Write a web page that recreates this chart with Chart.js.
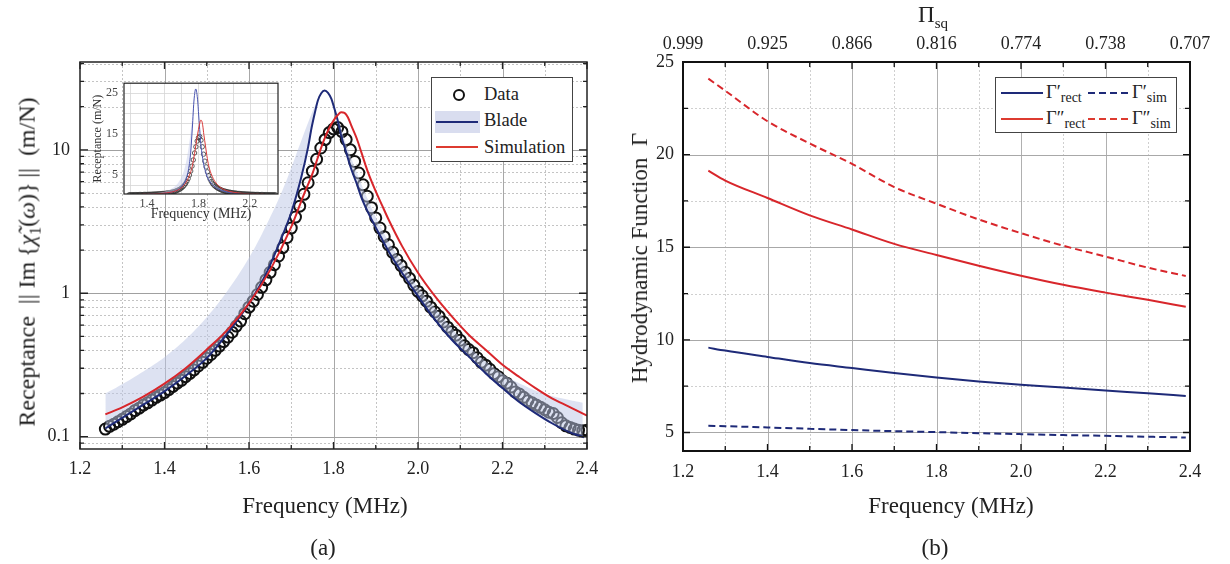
<!DOCTYPE html>
<html>
<head>
<meta charset="utf-8">
<script src="https://cdn.jsdelivr.net/npm/chart.js@4.4.1/dist/chart.umd.min.js"></script>
<style>
  body { margin: 0; width: 1230px; height: 564px; background: #fff; position: relative; overflow: hidden;
         font-family: 'Liberation Serif', 'Times New Roman', serif; color: #222; }
  canvas { position: absolute; }
  .lbl { position: absolute; white-space: nowrap; transform: translate(-50%, -50%); font-size: 23px; }
  .rot { transform: translate(-50%, -50%) rotate(-90deg); }
  .legend { position: absolute; background: #fff; border: 1px solid #444; }
  .legend div { position: absolute; }
  .ltxt { font-size: 18.5px; transform: translateY(-50%); white-space: nowrap; }
  .ltxt sub { font-size: 14px; vertical-align: -4px; }
</style>
</head>
<body>
<canvas id="chartA" width="615" height="500" style="left:0;top:0"></canvas>
<canvas id="chartB" width="615" height="500" style="left:615px;top:0"></canvas>
<canvas id="inset" width="202" height="156" style="left:88px;top:70px"></canvas>

<div class="lbl rot" style="left:29px;top:262px;font-size:24px">Receptance&nbsp;&nbsp;||&nbsp;Im&thinsp;{<i>χ̃</i><sub style="font-size:16px">1</sub>(<i>ω</i>)}&thinsp;||&nbsp;&nbsp;(m/N)</div>
<div class="lbl" style="left:325px;top:506px">Frequency (MHz)</div>
<div class="lbl" style="left:323px;top:548px">(a)</div>

<div class="lbl rot" style="left:640px;top:258px">Hydrodynamic Function&nbsp;&nbsp;Γ</div>
<div class="lbl" style="left:951px;top:506px">Frequency (MHz)</div>
<div class="lbl" style="left:935px;top:548px">(b)</div>
<div class="lbl" style="left:933px;top:17px">Π<sub style="font-size:15px">sq</sub></div>

<div class="legend" style="left:431px;top:77px;width:140px;height:83px">
  <div style="left:21px;top:11px;width:8px;height:8px;border:2px solid #111;border-radius:50%"></div>
  <div class="ltxt" style="left:52px;top:16px">Data</div>
  <div style="left:3px;top:33px;width:45px;height:22px;background:#d9ddef"></div>
  <div style="left:4px;top:43px;width:42px;height:2px;background:#1e2a78"></div>
  <div class="ltxt" style="left:52px;top:42px">Blade</div>
  <div style="left:4px;top:68px;width:42px;height:2px;background:#dd3b30"></div>
  <div class="ltxt" style="left:52px;top:69px">Simulation</div>
</div>

<div class="legend" style="left:995px;top:77px;width:180px;height:54px">
  <div style="left:5px;top:14px;width:42px;height:2px;background:#1e2a78"></div>
  <div class="ltxt" style="left:50px;top:16px">Γ′<sub>rect</sub></div>
  <div style="left:92px;top:14px;width:41px;height:2px;background:repeating-linear-gradient(90deg,#1e2a78 0 7px,transparent 7px 11px)"></div>
  <div class="ltxt" style="left:136px;top:16px">Γ′<sub>sim</sub></div>
  <div style="left:5px;top:40px;width:42px;height:2px;background:#dd3b30"></div>
  <div class="ltxt" style="left:50px;top:42px">Γ″<sub>rect</sub></div>
  <div style="left:92px;top:40px;width:41px;height:2px;background:repeating-linear-gradient(90deg,#dd3b30 0 7px,transparent 7px 11px)"></div>
  <div class="ltxt" style="left:136px;top:42px">Γ″<sub>sim</sub></div>
</div>

<script>
// ---- panel (a): measured receptance (circles)
const freqA = [
  1.26,1.27,1.28,1.29,1.30,1.31,1.32,1.33,1.34,1.35,
  1.36,1.37,1.38,1.39,1.40,1.41,1.42,1.43,1.44,1.45,
  1.46,1.47,1.48,1.49,1.50,1.51,1.52,1.53,1.54,1.55,
  1.56,1.57,1.58,1.59,1.60,1.61,1.62,1.63,1.64,1.65,
  1.66,1.67,1.68,1.69,1.70,1.71,1.72,1.73,1.74,1.75,
  1.76,1.77,1.78,1.79,1.80,1.81,1.82,1.83,1.84,1.85,
  1.86,1.87,1.88,1.89,1.90,1.91,1.92,1.93,1.94,1.95,
  1.96,1.97,1.98,1.99,2.00,2.01,2.02,2.03,2.04,2.05,
  2.06,2.07,2.08,2.09,2.10,2.11,2.12,2.13,2.14,2.15,
  2.16,2.17,2.18,2.19,2.20,2.21,2.22,2.23,2.24,2.25,
  2.26,2.27,2.28,2.29,2.30,2.31,2.32,2.33,2.34,2.35,
  2.36,2.37,2.38,2.39,2.40
];
const receptance = [
  0.113,0.118,0.122,0.127,0.132,0.138,0.144,0.152,0.158,0.166,
  0.172,0.180,0.188,0.195,0.203,0.213,0.224,0.236,0.247,0.262,
  0.276,0.292,0.311,0.330,0.352,0.374,0.400,0.428,0.460,0.495,
  0.535,0.590,0.640,0.720,0.800,0.880,0.980,1.10,1.24,1.40,
  1.58,1.82,2.08,2.45,2.85,3.40,4.05,4.90,5.90,7.10,
  8.60,10.3,11.8,13.2,14.0,14.3,13.4,11.8,10.0,8.3,
  6.9,5.7,4.75,3.95,3.35,2.85,2.48,2.18,1.93,1.72,
  1.56,1.40,1.27,1.14,1.03,0.96,0.88,0.80,0.74,0.69,
  0.63,0.58,0.54,0.51,0.47,0.43,0.405,0.385,0.355,0.33,
  0.315,0.295,0.275,0.262,0.245,0.236,0.222,0.205,0.198,0.188,
  0.178,0.172,0.166,0.160,0.154,0.148,0.145,0.136,0.125,0.119,
  0.116,0.113,0.111,0.110,0.111
];

// blade model line
const bladeFreq = [1.26,1.30,1.35,1.40,1.45,1.50,1.55,1.60,1.64,1.676,1.70,1.724,1.74,1.748,1.756,1.763,1.771,1.779,1.787,1.795,
  1.80,1.81,1.818,1.83,1.842,1.855,1.866,1.88,1.898,1.915,1.93,1.962,2.00,2.04,2.08,2.12,2.16,2.20,2.238,2.278,2.317,2.357,2.393];
const bladeLine = [0.114,0.135,0.167,0.207,0.266,0.353,0.53,0.85,1.36,2.4,3.66,6.5,10.5,14.2,18.2,22.1,24.8,25.9,25.0,22.7,
  20.4,16.0,12.6,9.6,7.35,5.8,4.66,3.75,2.95,2.38,1.97,1.39,0.955,0.654,0.474,0.363,0.277,0.218,0.176,0.146,0.124,0.108,0.099];

// blade uncertainty band
const bandFreq = [1.26,1.30,1.35,1.40,1.45,1.50,1.55,1.60,1.64,1.68,1.71,1.74,1.76,1.775,1.79,1.81,1.83,1.85,1.88,1.92,
  1.96,2.00,2.05,2.10,2.15,2.20,2.25,2.30,2.35,2.39];
const bandLow = [0.114,0.135,0.167,0.207,0.266,0.353,0.53,0.85,1.36,2.57,4.6,10.5,20.2,25.6,24.3,16.0,9.6,6.3,3.75,2.2,
  1.42,0.955,0.61,0.415,0.296,0.218,0.166,0.133,0.110,0.100];
const bandHigh = [0.200,0.232,0.285,0.358,0.477,0.68,1.05,1.77,2.95,5.3,9.0,15.5,21.5,25.7,24.4,16.6,11.0,7.6,4.6,2.6,
  1.68,1.10,0.73,0.49,0.355,0.275,0.228,0.198,0.182,0.172];

// simulation line
const simFreq = [1.26,1.30,1.35,1.40,1.45,1.50,1.55,1.60,1.65,1.70,1.73,1.75,1.77,1.78,1.79,1.80,1.81,1.818,1.826,1.834,
  1.842,1.855,1.866,1.88,1.898,1.915,1.93,1.962,2.00,2.04,2.08,2.12,2.16,2.20,2.238,2.278,2.317,2.357,2.40];
const simLine = [0.143,0.160,0.190,0.234,0.300,0.405,0.56,0.85,1.45,2.9,4.9,6.8,10.2,12.2,14.2,16.0,17.5,18.3,18.1,16.9,
  14.8,12.0,9.6,7.2,5.3,4.1,3.28,2.14,1.39,0.955,0.69,0.514,0.404,0.317,0.263,0.218,0.185,0.162,0.140];

const xTicksA = [1.2,1.4,1.6,1.8,2.0,2.2,2.4];
const xMinorA = [1.3,1.5,1.7,1.9,2.1,2.3];
const yTicksA = [0.1,1,10];
const yMinorA = [0.09,0.2,0.3,0.4,0.5,0.6,0.7,0.8,0.9,2,3,4,5,6,7,8,9,20,30,40];

// inset
const xTicksInset = [1.4,1.8,2.2];
const xGridInset = [1.2667,1.4,1.5333,1.6667,1.8,1.9333,2.0667,2.2,2.3333];
const yTicksInset = [5,15,25];
const yGridInset = [2.5,5,7.5,10,12.5,15,17.5,20,22.5,25];

// ---- panel (b): hydrodynamic function
const freqB = [1.26,1.30,1.40,1.50,1.60,1.70,1.80,1.90,2.00,2.10,2.20,2.30,2.39];
const gammaRectP  = [9.58,9.42,9.08,8.75,8.48,8.21,7.97,7.75,7.57,7.43,7.26,7.12,6.97];
const gammaSimP   = [5.36,5.34,5.27,5.20,5.13,5.07,5.02,4.96,4.91,4.86,4.82,4.77,4.73];
const gammaRectPP = [19.13,18.6,17.66,16.72,15.96,15.18,14.58,14.0,13.46,12.97,12.55,12.16,11.79];
const gammaSimPP  = [24.1,23.45,21.8,20.6,19.5,18.25,17.35,16.5,15.76,15.08,14.5,13.9,13.45];
const xTicksB = [1.2,1.4,1.6,1.8,2.0,2.2,2.4];
const xMinorB = [1.3,1.5,1.7,1.9,2.1,2.3];
const piLabels = ['0.999','0.925','0.866','0.816','0.774','0.738','0.707'];
const yTicksB = [5,10,15,20,25];
const yMinorB = [7.5,12.5,17.5,22.5];

const NAVY = '#1e2a78';
const RED = '#d8262b';
const BAND = 'rgba(187,198,230,0.5)';
const FONT = "'Liberation Serif', 'Times New Roman', serif";

Chart.defaults.font.family = FONT;
Chart.defaults.color = '#222';
Chart.defaults.animation = false;

const pts = (xs, ys) => xs.map((x, i) => ({ x: x, y: ys[i] }));
const fixTicks = vals => s => { s.ticks = vals.map(v => ({ value: v })); };

// plot frame: background, custom grid, inward ticks, border
const frame = {
  id: 'frame',
  beforeDatasetsDraw(chart, args, o) {
    const { ctx, chartArea: a } = chart;
    const sx = chart.scales.x, sy = chart.scales.y;
    ctx.save();
    if (o.bg) { ctx.fillStyle = o.bg; ctx.fillRect(a.left, a.top, a.right - a.left, a.bottom - a.top); }
    (o.grid || []).forEach(g => {
      ctx.strokeStyle = g.color; ctx.lineWidth = g.width; ctx.setLineDash(g.dash || []);
      g.values.forEach(v => {
        ctx.beginPath();
        if (g.axis === 'x') {
          const p = Math.round(sx.getPixelForValue(v)) + 0.5;
          ctx.moveTo(p, a.top); ctx.lineTo(p, a.bottom);
        } else {
          const p = Math.round(sy.getPixelForValue(v)) + 0.5;
          ctx.moveTo(a.left, p); ctx.lineTo(a.right, p);
        }
        ctx.stroke();
      });
    });
    ctx.restore();
  },
  afterDraw(chart, args, o) {
    const { ctx, chartArea: a } = chart;
    const sx = chart.scales.x, sy = chart.scales.y;
    ctx.save();
    ctx.strokeStyle = o.color || '#111';
    (o.ticks || []).forEach(t => {
      ctx.lineWidth = t.width || 1.3;
      t.values.forEach(v => {
        ctx.beginPath();
        if (t.axis === 'x') {
          const p = sx.getPixelForValue(v);
          ctx.moveTo(p, a.bottom); ctx.lineTo(p, a.bottom - t.len);
          ctx.moveTo(p, a.top); ctx.lineTo(p, a.top + t.len);
        } else {
          const p = sy.getPixelForValue(v);
          ctx.moveTo(a.left, p); ctx.lineTo(a.left + t.len, p);
          ctx.moveTo(a.right, p); ctx.lineTo(a.right - t.len, p);
        }
        ctx.stroke();
      });
    });
    ctx.lineWidth = o.borderWidth || 1.5;
    ctx.strokeRect(a.left, a.top, a.right - a.left, a.bottom - a.top);
    ctx.restore();
  }
};

const lineDs = (label, data, color, width, order, extra) => Object.assign({
  label: label, data: data, showLine: true, borderColor: color, borderWidth: width,
  pointRadius: 0, fill: false, cubicInterpolationMode: 'monotone', order: order
}, extra || {});

// band edges drawn with plain bezier smoothing
const smooth = { cubicInterpolationMode: 'default', tension: 0.4 };

// ---- chart (a)
new Chart(document.getElementById('chartA'), {
  type: 'scatter',
  data: {
    datasets: [
      lineDs('Simulation', pts(simFreq, simLine), RED, 2, 1),
      lineDs('Blade', pts(bladeFreq, bladeLine), NAVY, 2, 2),
      lineDs('Blade band', pts(bandFreq, bandHigh), 'rgba(0,0,0,0)', 0, 3, Object.assign({ fill: '+1', backgroundColor: BAND }, smooth)),
      lineDs('Blade band low', pts(bandFreq, bandLow), 'rgba(0,0,0,0)', 0, 4, smooth),
      { label: 'Data', data: pts(freqA, receptance), pointRadius: 5.5, borderWidth: 2,
        borderColor: '#111', backgroundColor: 'rgba(0,0,0,0)', order: 5 }
    ]
  },
  options: {
    responsive: false,
    events: [],
    layout: { padding: { top: 62, right: 28, left: 0, bottom: 0 } },
    plugins: {
      legend: { display: false }, tooltip: { enabled: false },
      frame: {
        grid: [
          { axis: 'x', values: xMinorA, color: '#c4c4c4', width: 1, dash: [2, 2] },
          { axis: 'y', values: yMinorA, color: '#c4c4c4', width: 1, dash: [2, 2] },
          { axis: 'x', values: [1.4, 1.6, 1.8, 2.0, 2.2], color: '#a8a8a8', width: 1 },
          { axis: 'y', values: yTicksA, color: '#a0a0a0', width: 1 }
        ],
        ticks: [
          { axis: 'x', values: xTicksA, len: 7 }, { axis: 'x', values: xMinorA, len: 4 },
          { axis: 'y', values: yTicksA, len: 8 }, { axis: 'y', values: yMinorA, len: 4 }
        ],
        color: '#222', borderWidth: 1.5
      }
    },
    scales: {
      x: {
        type: 'linear', min: 1.2, max: 2.4,
        grid: { display: false, drawTicks: false }, border: { display: false },
        afterBuildTicks: fixTicks(xTicksA),
        afterFit: s => { s.height = 51; },
        ticks: { padding: 9, font: { size: 18 }, callback: v => v.toFixed(1) }
      },
      y: {
        type: 'logarithmic', min: 0.082, max: 41,
        grid: { display: false, drawTicks: false }, border: { display: false },
        afterBuildTicks: fixTicks(yTicksA),
        afterFit: s => { s.width = 80; },
        ticks: { padding: 10, font: { size: 18 }, callback: v => (v < 1 ? v.toFixed(1) : v.toFixed(0)) }
      }
    }
  },
  plugins: [frame]
});

// ---- inset of (a), linear scale
new Chart(document.getElementById('inset'), {
  type: 'scatter',
  data: {
    datasets: [
      lineDs('Simulation', pts(simFreq, simLine), '#d83a3a', 1, 1),
      lineDs('Blade', pts(bladeFreq, bladeLine), '#4a55b0', 1, 2),
      lineDs('Blade band', pts(bandFreq, bandHigh), 'rgba(0,0,0,0)', 0, 3, { fill: '+1', backgroundColor: 'rgba(200,206,235,0.5)' }),
      lineDs('Blade band low', pts(bandFreq, bandLow), 'rgba(0,0,0,0)', 0, 4),
      { label: 'Data', data: pts(freqA, receptance), pointRadius: 2.2, borderWidth: 0.8,
        borderColor: '#333', backgroundColor: 'rgba(0,0,0,0)', order: 5 }
    ]
  },
  options: {
    responsive: false,
    events: [],
    layout: { padding: { top: 7, right: 12, left: 0, bottom: 0 } },
    plugins: {
      legend: { display: false }, tooltip: { enabled: false },
      frame: {
        bg: '#fff',
        grid: [
          { axis: 'x', values: xGridInset, color: '#d6d6d6', width: 0.8 },
          { axis: 'y', values: yGridInset, color: '#d6d6d6', width: 0.8 }
        ],
        ticks: [],
        color: '#222', borderWidth: 1.2
      }
    },
    scales: {
      x: {
        type: 'linear', min: 1.22, max: 2.42,
        grid: { display: false, drawTicks: false }, border: { display: false },
        afterBuildTicks: fixTicks(xTicksInset),
        afterFit: s => { s.height = 32; },
        ticks: { padding: 3, font: { size: 12 }, color: '#444', callback: v => v.toFixed(1) },
        title: { display: true, text: 'Frequency (MHz)', font: { size: 14 }, color: '#333', padding: { top: 0, bottom: 3 } }
      },
      y: {
        type: 'linear', min: 0.3, max: 27.3,
        grid: { display: false, drawTicks: false }, border: { display: false },
        afterBuildTicks: fixTicks(yTicksInset),
        afterFit: s => { s.width = 36; },
        ticks: { padding: 6, font: { size: 12 }, color: '#444' },
        title: { display: true, text: 'Receptance (m/N)', font: { size: 12 }, color: '#333', padding: { top: 3, bottom: 0 } }
      }
    }
  },
  plugins: [frame]
});

// ---- chart (b)
new Chart(document.getElementById('chartB'), {
  type: 'scatter',
  data: {
    datasets: [
      lineDs('Γ′ rect', pts(freqB, gammaRectP), NAVY, 2, 1),
      lineDs('Γ′ sim', pts(freqB, gammaSimP), NAVY, 2, 2, { borderDash: [7, 4] }),
      lineDs('Γ″ rect', pts(freqB, gammaRectPP), RED, 2, 3),
      lineDs('Γ″ sim', pts(freqB, gammaSimPP), RED, 2, 4, { borderDash: [7, 4] })
    ]
  },
  options: {
    responsive: false,
    events: [],
    layout: { padding: { top: 0, right: 40, left: 0, bottom: 0 } },
    plugins: {
      legend: { display: false }, tooltip: { enabled: false },
      frame: {
        grid: [
          { axis: 'x', values: xMinorB, color: '#cfcfcf', width: 1, dash: [2, 2] },
          { axis: 'y', values: yMinorB, color: '#cfcfcf', width: 1, dash: [2, 2] },
          { axis: 'x', values: [1.4, 1.6, 1.8, 2.0, 2.2], color: '#b0b0b0', width: 1 },
          { axis: 'y', values: [5, 10, 15, 20], color: '#a8a8a8', width: 1 }
        ],
        ticks: [
          { axis: 'x', values: xTicksB, len: 7 }, { axis: 'x', values: xMinorB, len: 5 },
          { axis: 'y', values: yTicksB, len: 7 }, { axis: 'y', values: yMinorB, len: 5 }
        ],
        color: '#111', borderWidth: 2
      }
    },
    scales: {
      x: {
        type: 'linear', min: 1.2, max: 2.4,
        grid: { display: false, drawTicks: false }, border: { display: false },
        afterBuildTicks: fixTicks(xTicksB),
        afterFit: s => { s.height = 49; },
        ticks: { padding: 10, font: { size: 18 }, callback: v => v.toFixed(1) }
      },
      x2: {
        type: 'linear', position: 'top', min: 1.2, max: 2.4,
        grid: { display: false, drawTicks: false }, border: { display: false },
        afterBuildTicks: fixTicks(xTicksB),
        afterFit: s => { s.height = 62; },
        ticks: { padding: 7, font: { size: 18 }, callback: (v, i) => piLabels[i] }
      },
      y: {
        type: 'linear', min: 4, max: 25,
        grid: { display: false, drawTicks: false }, border: { display: false },
        afterBuildTicks: fixTicks(yTicksB),
        afterFit: s => { s.width = 68; },
        ticks: { padding: 9, font: { size: 18 } }
      }
    }
  },
  plugins: [frame]
});
</script>
</body>
</html>
